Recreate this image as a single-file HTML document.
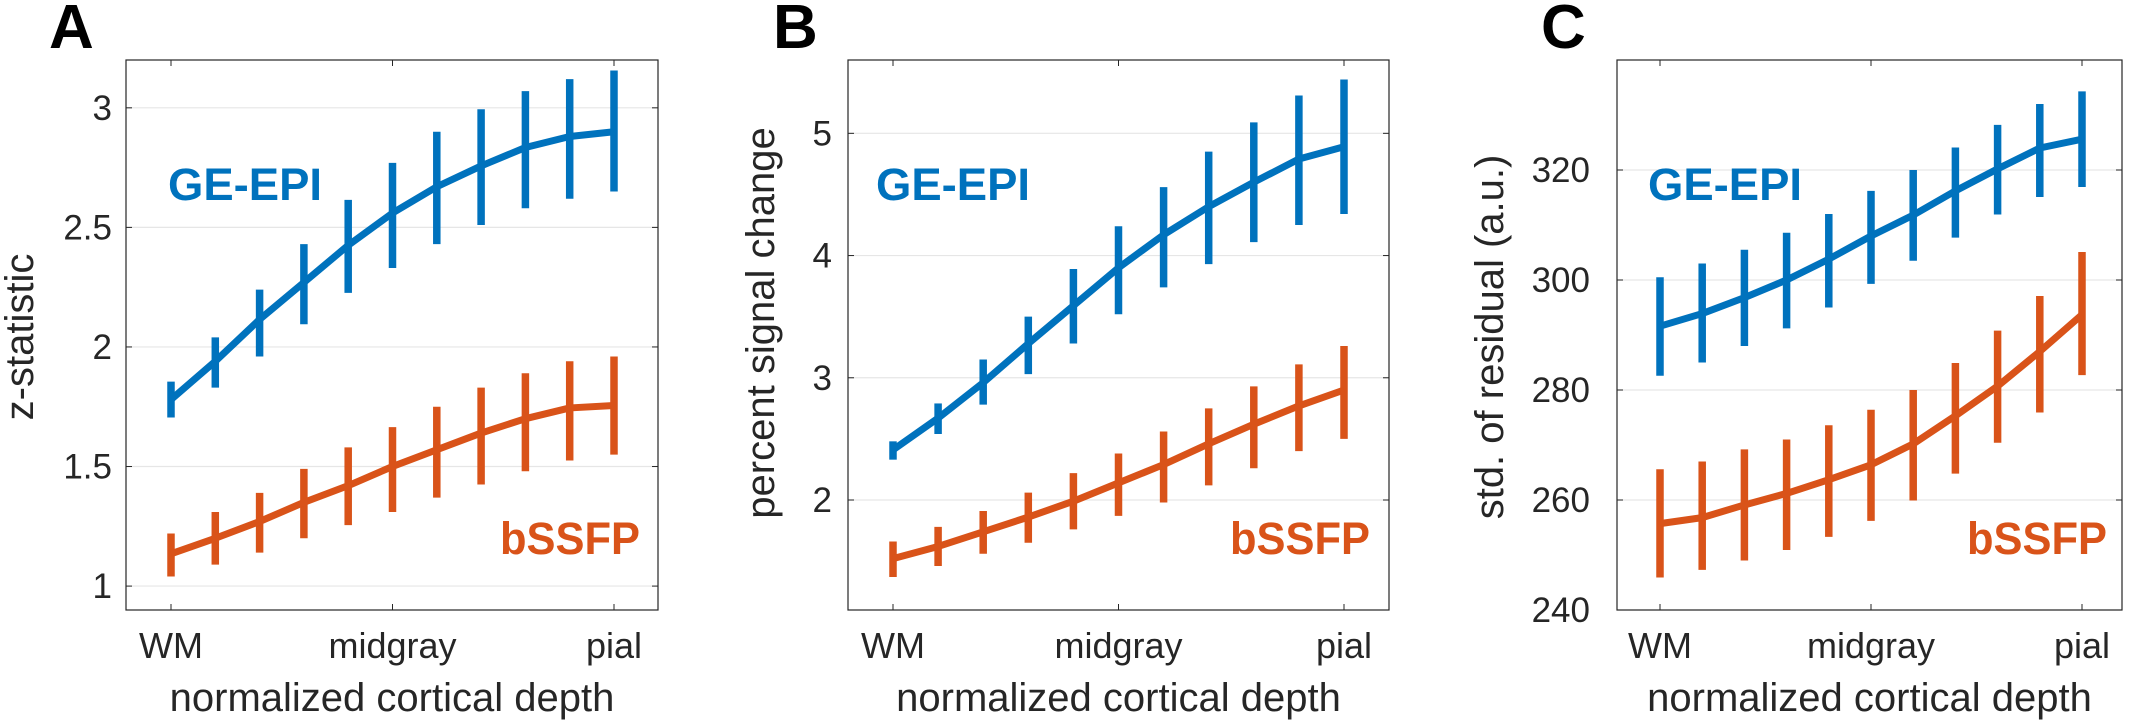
<!DOCTYPE html>
<html><head><meta charset="utf-8">
<style>
html,body{margin:0;padding:0;background:#fff;}
svg{display:block;font-family:"Liberation Sans",sans-serif;}
</style></head>
<body>
<svg id="fig" width="2140" height="723" viewBox="0 0 2140 723" xmlns="http://www.w3.org/2000/svg"></svg>
<script>
const xCategories = ["WM","midgray","pial"];
// Panel A: z-statistic
const aYTicks = [1,1.5,2,2.5,3];
const aYTickLabels = ["1","1.5","2","2.5","3"];
const aEpiMean = [1.78,1.94,2.115,2.27,2.425,2.56,2.67,2.757,2.834,2.88,2.90];
const aEpiLo   = [1.705,1.83,1.96,2.095,2.226,2.33,2.43,2.51,2.58,2.62,2.65];
const aEpiHi   = [1.855,2.04,2.24,2.43,2.615,2.77,2.90,2.994,3.07,3.12,3.156];
const aSsfpMean= [1.135,1.20,1.27,1.35,1.42,1.50,1.57,1.64,1.70,1.745,1.755];
const aSsfpLo  = [1.04,1.09,1.14,1.20,1.255,1.31,1.37,1.425,1.48,1.525,1.55];
const aSsfpHi  = [1.22,1.31,1.39,1.49,1.58,1.665,1.75,1.83,1.89,1.94,1.96];
// Panel B: percent signal change
const bYTicks = [2,3,4,5];
const bYTickLabels = ["2","3","4","5"];
const bEpiMean = [2.41,2.67,2.96,3.28,3.59,3.90,4.17,4.40,4.60,4.79,4.89];
const bEpiLo   = [2.33,2.54,2.78,3.03,3.28,3.52,3.74,3.93,4.11,4.25,4.34];
const bEpiHi   = [2.48,2.79,3.15,3.50,3.89,4.24,4.56,4.85,5.09,5.31,5.44];
const bSsfpMean= [1.52,1.62,1.74,1.86,1.99,2.14,2.29,2.46,2.62,2.77,2.90];
const bSsfpLo  = [1.37,1.46,1.56,1.65,1.76,1.87,1.98,2.12,2.26,2.40,2.50];
const bSsfpHi  = [1.66,1.78,1.91,2.06,2.22,2.38,2.56,2.75,2.93,3.11,3.26];
// Panel C: std of residual
const cYTicks = [240,260,280,300,320];
const cYTickLabels = ["240","260","280","300","320"];
const cEpiMean = [291.6,293.9,296.8,300,303.8,308,311.8,316.2,320.2,324,325.6];
const cEpiLo   = [282.6,285,288,291.2,295,299.3,303.5,307.7,311.9,315.1,316.9];
const cEpiHi   = [300.5,303,305.5,308.6,312,316.2,320,324.1,328.2,332,334.3];
const cSsfpMean= [255.7,256.8,259.1,261.2,263.7,266.4,270.2,275.3,280.7,287,293.7];
const cSsfpLo  = [245.9,247.3,249,250.9,253.3,256.2,259.9,264.8,270.4,275.9,282.7];
const cSsfpHi  = [265.6,267,269.2,271,273.6,276.4,280,284.9,290.8,297.1,305.1];

const NS="http://www.w3.org/2000/svg";
const svg=document.getElementById('fig');
function mk(tag,attrs,parent){const e=document.createElementNS(NS,tag);for(const k in attrs)e.setAttribute(k,attrs[k]);(parent||svg).appendChild(e);return e;}
const BLUE="#0072BD", ORANGE="#D95319";

function panel(cfg){
  const g=mk('g',{});
  
  
  const x0=cfg.x0,x1=cfg.x1,y0=60,y1=610;
  const xs=i=>cfg.xWM+(cfg.xPial-cfg.xWM)*i/10;
  const ys=v=>y1-(v-cfg.ymin)/(cfg.ymax-cfg.ymin)*(y1-y0);
  cfg.yTicks.forEach((t,i)=>{
    const gl=mk('line',{x1:x0,x2:x1,y1:ys(t),y2:ys(t),stroke:'#e6e6e6','stroke-width':1.2},g);
    
    
    mk('line',{x1:x0,x2:x0+6,y1:ys(t),y2:ys(t),stroke:'#262626','stroke-width':1},g);
    mk('line',{x1:x1,x2:x1-6,y1:ys(t),y2:ys(t),stroke:'#262626','stroke-width':1},g);
    const tl=mk('text',{x:cfg.tickRight,y:ys(t)+12,'text-anchor':'end','font-size':35,fill:'#262626'},g);
    tl.textContent=cfg.yTickLabels[i];
    
    
  });
  xCategories.forEach((c,i)=>{
    const x=xs(i*5);
    mk('line',{x1:x,x2:x,y1:y1,y2:y1-6,stroke:'#262626','stroke-width':1},g);
    mk('line',{x1:x,x2:x,y1:y0,y2:y0+6,stroke:'#262626','stroke-width':1},g);
    const tl=mk('text',{x:x,y:658,'text-anchor':'middle','font-size':36,fill:'#262626'},g);
    tl.textContent=c;
    
    
  });
  const box=mk('rect',{x:x0,y:y0,width:x1-x0,height:y1-y0,fill:'none',stroke:'#262626','stroke-width':1.2},g);
  
  
  function series(mean,lo,hi,col,name){
    const sg=mk('g',{},g);
    
    
    mean.forEach((m,i)=>{
      const eb=mk('line',{x1:xs(i),x2:xs(i),y1:ys(lo[i]),y2:ys(hi[i]),stroke:col,'stroke-width':7.5},sg);
      
      
    });
    const pl=mk('polyline',{points:mean.map((m,i)=>xs(i)+','+ys(m)).join(' '),fill:'none',stroke:col,'stroke-width':7,'stroke-linejoin':'round'},sg);
    
    
  }
  series(cfg.epi[0],cfg.epi[1],cfg.epi[2],BLUE,'ge-epi');
  series(cfg.ssfp[0],cfg.ssfp[1],cfg.ssfp[2],ORANGE,'bssfp');
  const l1=mk('text',{x:cfg.epiX,y:200,'font-size':45,'font-weight':'bold',fill:BLUE,textLength:154,lengthAdjust:'spacingAndGlyphs'},g);
  l1.textContent='GE-EPI';
  
  
  const l2=mk('text',{x:cfg.ssfpRight-140,y:554,'font-size':45,'font-weight':'bold',fill:ORANGE,textLength:140,lengthAdjust:'spacingAndGlyphs'},g);
  l2.textContent='bSSFP';
  
  
  const xt=mk('text',{x:(x0+x1)/2,y:711,'text-anchor':'middle','font-size':40,fill:'#262626'},g);
  xt.textContent='normalized cortical depth';
  
  
  const yt=mk('text',{x:0,y:0,'text-anchor':'middle','font-size':40,fill:'#262626',transform:`translate(${cfg.yTitleX},${cfg.yTitleY}) rotate(-90)`},g);
  yt.textContent=cfg.yTitle;
  
  
  const pl=mk('text',{x:cfg.letterX,y:48,'font-size':62,'font-weight':'bold',fill:'#000'},g);
  pl.textContent=cfg.key.toUpperCase();
  
  
}

panel({key:'a',x0:126,x1:658,xWM:171,xPial:614,ymin:0.9,ymax:3.2,yTicks:aYTicks,yTickLabels:aYTickLabels,
  epi:[aEpiMean,aEpiLo,aEpiHi],ssfp:[aSsfpMean,aSsfpLo,aSsfpHi],tickRight:112,epiX:168,ssfpRight:640,
  yTitle:'z-statistic',yTitleX:33,yTitleY:337,letterX:49});
panel({key:'b',x0:848,x1:1389,xWM:893,xPial:1344,ymin:1.1,ymax:5.6,yTicks:bYTicks,yTickLabels:bYTickLabels,
  epi:[bEpiMean,bEpiLo,bEpiHi],ssfp:[bSsfpMean,bSsfpLo,bSsfpHi],tickRight:832,epiX:876,ssfpRight:1370,
  yTitle:'percent signal change',yTitleX:774,yTitleY:323,letterX:773});
panel({key:'c',x0:1617,x1:2122,xWM:1660,xPial:2082,ymin:240,ymax:340,yTicks:cYTicks,yTickLabels:cYTickLabels,
  epi:[cEpiMean,cEpiLo,cEpiHi],ssfp:[cSsfpMean,cSsfpLo,cSsfpHi],tickRight:1590,epiX:1648,ssfpRight:2107,
  yTitle:'std. of residual (a.u.)',yTitleX:1503,yTitleY:337,letterX:1541});
</script>
</body></html>
